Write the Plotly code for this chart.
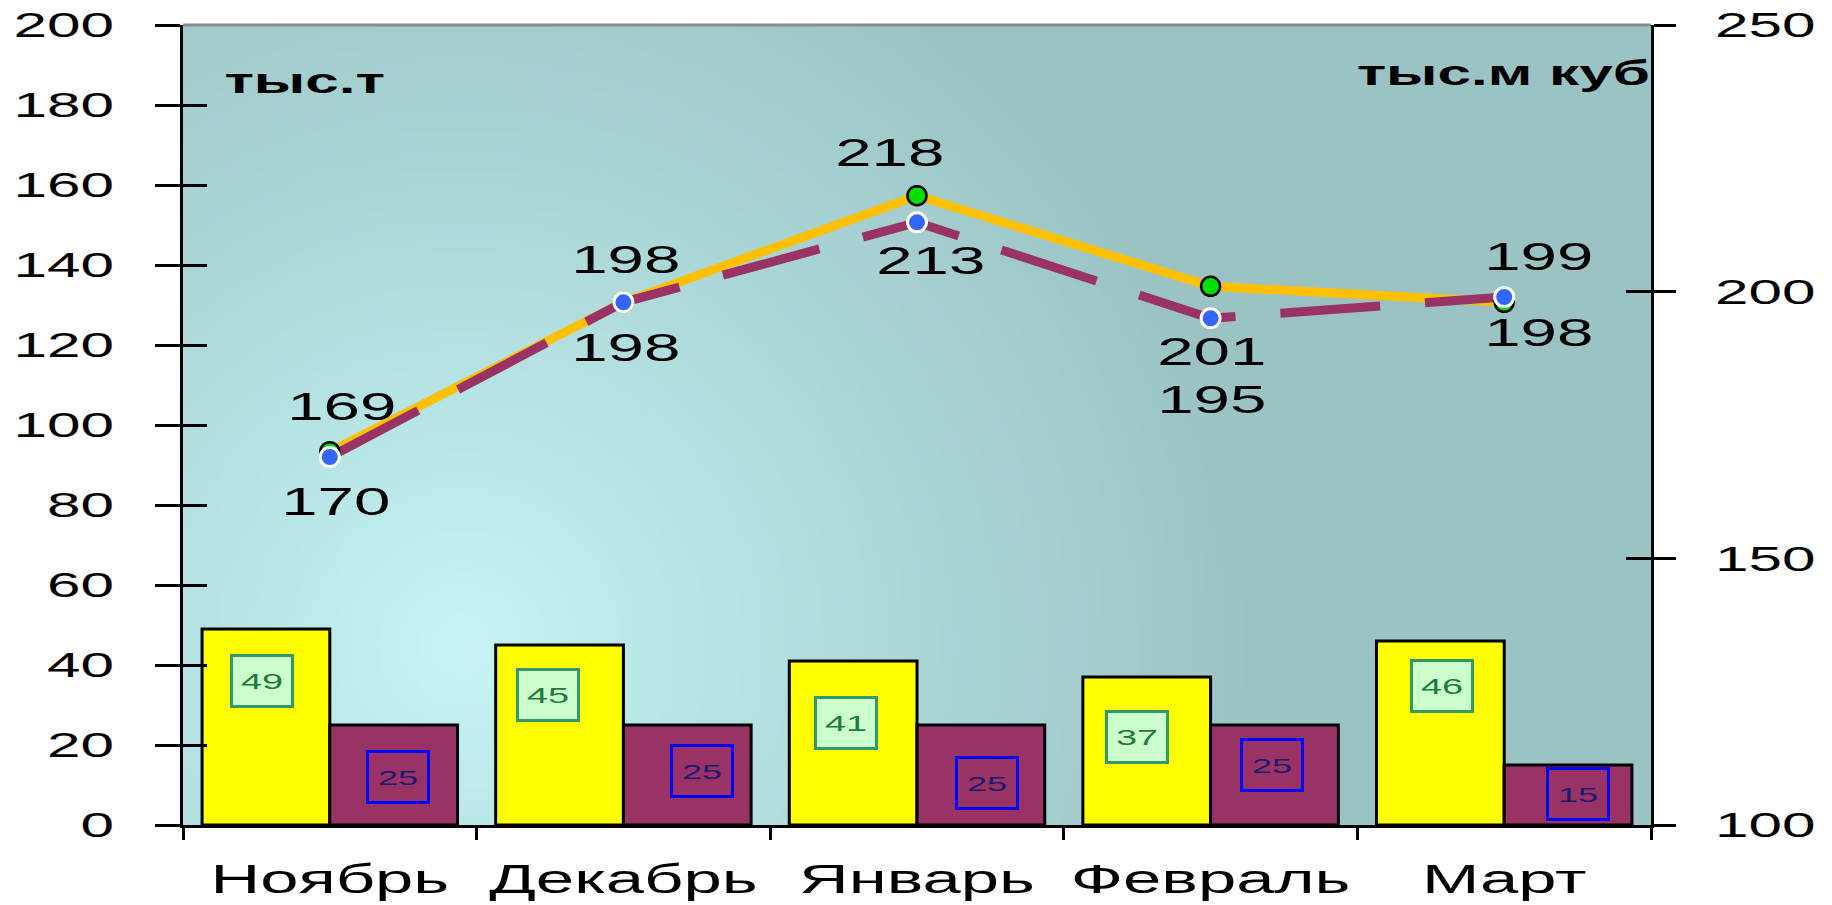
import base64
import struct
import zlib

import numpy as np
import plotly.graph_objects as go

# ---------------- data ----------------
months = ["Ноябрь", "Декабрь", "Январь", "Февраль", "Март"]
bars_yellow = [49, 45, 41, 37, 46]          # тыс.т
bars_maroon = [25, 25, 25, 25, 15]          # тыс.т
line_yellow = [170, 198, 218, 201, 198]     # тыс.м куб
line_maroon = [169, 198, 213, 195, 199]     # тыс.м куб
left_ticks = [0, 20, 40, 60, 80, 100, 120, 140, 160, 180, 200]
right_ticks = [100, 150, 200, 250]

# ---------------- styles / layout constants ----------------
W, H = 1832, 905
ML, MR, MT, MB = 183, 181, 25, 80
PW, PH = W - ML - MR, H - MT - MB
BARGAP = 0.13
BAR_PX = PW / len(months) * (1 - BARGAP) / 2
FONT = "Liberation Sans"
STRETCH = 1.72   # the reference lettering is horizontally widened

# label offsets (pixels) for the line value labels
yl_dx = [6, 2, -28, 1, 34]
yl_dy = [-50, -46, 43, -66, -31]
ml_dx = [12, 2, 13, 1, 34]
ml_dy = [50, 42, -39, -82, 40]
# bar label box offsets (pixels below bar top, horizontal adjust)
yb_dy = [52, 50, 62, 60, 45]
yb_dx = [-4, -12, -7, -10, 2]
mb_dy = [52, 46, 58, 40, 29]
mb_dx = [4, 15, 6, -2, 10]


# ---------------- background gradient image ----------------
def make_png(arr):
    h, w, _ = arr.shape
    raw = b"".join(b"\x00" + arr[r].tobytes() for r in range(h))

    def chunk(t, d):
        c = struct.pack(">I", len(d)) + t + d
        return c + struct.pack(">I", zlib.crc32(t + d) & 0xFFFFFFFF)

    return (b"\x89PNG\r\n\x1a\n"
            + chunk(b"IHDR", struct.pack(">IIBBBBB", w, h, 8, 2, 0, 0, 0))
            + chunk(b"IDAT", zlib.compress(raw, 9))
            + chunk(b"IEND", b""))


gw, gh = 294, 160
xs = (np.arange(gw) + 0.5) / gw * PW
ys = (np.arange(gh) + 0.5) / gh * PH
X, Y = np.meshgrid(xs, ys)
d = np.sqrt((X - 280) ** 2 + (Y - 620) ** 2)
t = np.clip(d / 800.0, 0, 1) ** 0.9
inner = np.array([198, 246, 246], dtype=float)
outer = np.array([155, 195, 196], dtype=float)
img = (inner[None, None, :] * (1 - t[..., None]) + outer[None, None, :] * t[..., None])
img = np.clip(img, 0, 255).astype(np.uint8)
bg_uri = "data:image/png;base64," + base64.b64encode(make_png(img)).decode()

# ---------------- figure ----------------
fig = go.Figure()

fig.add_trace(go.Bar(
    x=months, y=bars_yellow, name="yellow",
    marker=dict(color="#FFFF00", line=dict(color="black", width=3)),
))
fig.add_trace(go.Bar(
    x=months, y=bars_maroon, name="maroon",
    marker=dict(color="#993366", line=dict(color="black", width=3)),
))
fig.add_trace(go.Scatter(
    x=months, y=line_yellow, yaxis="y2", mode="lines",
    line=dict(color="#FFC000", width=9),
))
fig.add_trace(go.Scatter(
    x=months, y=line_maroon, yaxis="y2", mode="lines",
    line=dict(color="#993366", width=9, dash="100px,45px"),
))
fig.add_trace(go.Scatter(
    x=months, y=line_yellow, yaxis="y2", mode="markers",
    marker=dict(color="#00E000", size=19, line=dict(color="black", width=2.5)),
))
fig.add_trace(go.Scatter(
    x=months, y=line_maroon, yaxis="y2", mode="markers",
    marker=dict(color="#3366FF", size=19, line=dict(color="white", width=3)),
))

annotations = []
for i, v in enumerate(line_yellow):
    annotations.append(dict(
        x=months[i], y=v, xref="x", yref="y2", text=str(v), showarrow=False,
        xshift=yl_dx[i], yshift=yl_dy[i], font=dict(family=FONT, size=38, color="black"),
    ))
for i, v in enumerate(line_maroon):
    annotations.append(dict(
        x=months[i], y=v, xref="x", yref="y2", text=str(v), showarrow=False,
        xshift=ml_dx[i], yshift=ml_dy[i], font=dict(family=FONT, size=38, color="black"),
    ))
for i, v in enumerate(bars_yellow):
    annotations.append(dict(
        x=months[i], y=v, xref="x", yref="y", text=str(v), showarrow=False,
        xshift=-BAR_PX / 2 + yb_dx[i], yshift=-yb_dy[i],
        width=58, height=48, borderpad=0, borderwidth=3,
        bordercolor="#339966", bgcolor="#CCFFCC",
        font=dict(family=FONT, size=22, color="#1E7B3C"),
    ))
for i, v in enumerate(bars_maroon):
    annotations.append(dict(
        x=months[i], y=v, xref="x", yref="y", text=str(v), showarrow=False,
        xshift=BAR_PX / 2 + mb_dx[i], yshift=-mb_dy[i],
        width=58, height=48, borderpad=0, borderwidth=3,
        bordercolor="#0000FF", bgcolor="rgba(0,0,0,0)",
        font=dict(family=FONT, size=21, color="#1A1A6E"),
    ))
annotations.append(dict(
    x=0.083, y=0.93, xref="paper", yref="paper", xanchor="center", yanchor="middle",
    text="<b>тыс.т</b>", showarrow=False, font=dict(family=FONT, size=35, color="black"),
))
annotations.append(dict(
    x=0.899, y=0.941, xref="paper", yref="paper", xanchor="center", yanchor="middle",
    text="<b>тыс.м куб</b>", showarrow=False, font=dict(family=FONT, size=35, color="black"),
))

axis_common = dict(showgrid=False, zeroline=False, tickcolor="black", tickwidth=3,
                   automargin=False)

fig.update_layout(
    width=W, height=H,
    margin=dict(l=ML, r=MR, t=MT, b=MB, pad=0, autoexpand=False),
    paper_bgcolor="white", plot_bgcolor="rgba(0,0,0,0)",
    showlegend=False, hovermode=False,
    barmode="group", bargap=BARGAP, bargroupgap=0,
    font=dict(family=FONT, color="black"),
    xaxis=dict(
        type="category", range=[-0.5, len(months) - 0.5],
        showline=True, linecolor="black", linewidth=3,
        ticks="outside", tickson="boundaries", ticklen=12,
        tickfont=dict(family=FONT, size=40), ticklabelstandoff=17,
        **axis_common,
    ),
    yaxis=dict(
        range=[0, 200], tickvals=left_ticks, ticktext=[str(v) for v in left_ticks],
        showline=True, linecolor="black", linewidth=3,
        ticks="outside", ticklen=25, ticklabelstandoff=34,
        tickfont=dict(family=FONT, size=35), **axis_common,
    ),
    yaxis2=dict(
        range=[100, 250], tickvals=right_ticks, ticktext=[str(v) for v in right_ticks],
        overlaying="y", side="right", anchor="x",
        showline=True, linecolor="black", linewidth=3,
        ticks="outside", ticklen=22, ticklabelstandoff=32,
        tickfont=dict(family=FONT, size=35), **axis_common,
    ),
    yaxis3=dict(
        range=[0, 200], tickvals=left_ticks, overlaying="y", side="left", anchor="x",
        ticks="inside", ticklen=24, showticklabels=False, showline=False, **axis_common,
    ),
    yaxis4=dict(
        range=[100, 250], tickvals=right_ticks, overlaying="y", side="right", anchor="x",
        ticks="inside", ticklen=25, showticklabels=False, showline=False, **axis_common,
    ),
    annotations=annotations,
    images=[dict(
        source=bg_uri, xref="paper", yref="paper", x=0, y=1, sizex=1, sizey=1,
        xanchor="left", yanchor="top", sizing="stretch", layer="below",
    )],
    shapes=[dict(
        type="line", xref="paper", yref="paper", x0=0, x1=1, y0=1, y1=1,
        line=dict(color="#8A8A8A", width=3), layer="above",
    )],
)

# dummy traces to activate the tick-only axes
fig.add_trace(go.Scatter(x=[months[0]], y=[None], yaxis="y3", showlegend=False))
fig.add_trace(go.Scatter(x=[months[0]], y=[None], yaxis="y4", showlegend=False))

post_js = """
document.body.style.margin = '0';
document.body.style.overflow = 'hidden';
(function () {
  var F = %s;
  function widen() {
    document.querySelectorAll('.main-svg text').forEach(function (t) {
      if (t.getAttribute('data-wide')) return;
      var w = t.getComputedTextLength();
      if (w > 0) {
        t.setAttribute('textLength', (w * F).toFixed(1));
        t.setAttribute('lengthAdjust', 'spacingAndGlyphs');
        t.setAttribute('data-wide', '1');
      }
    });
  }
  var gd = document.getElementById('{plot_id}');
  widen();
  if (gd && gd.on) { gd.on('plotly_afterplot', widen); }
  setTimeout(widen, 50);
  setTimeout(widen, 400);
})();
""" % STRETCH

fig.write_html("out.html", post_script=post_js, config={"displayModeBar": False})
